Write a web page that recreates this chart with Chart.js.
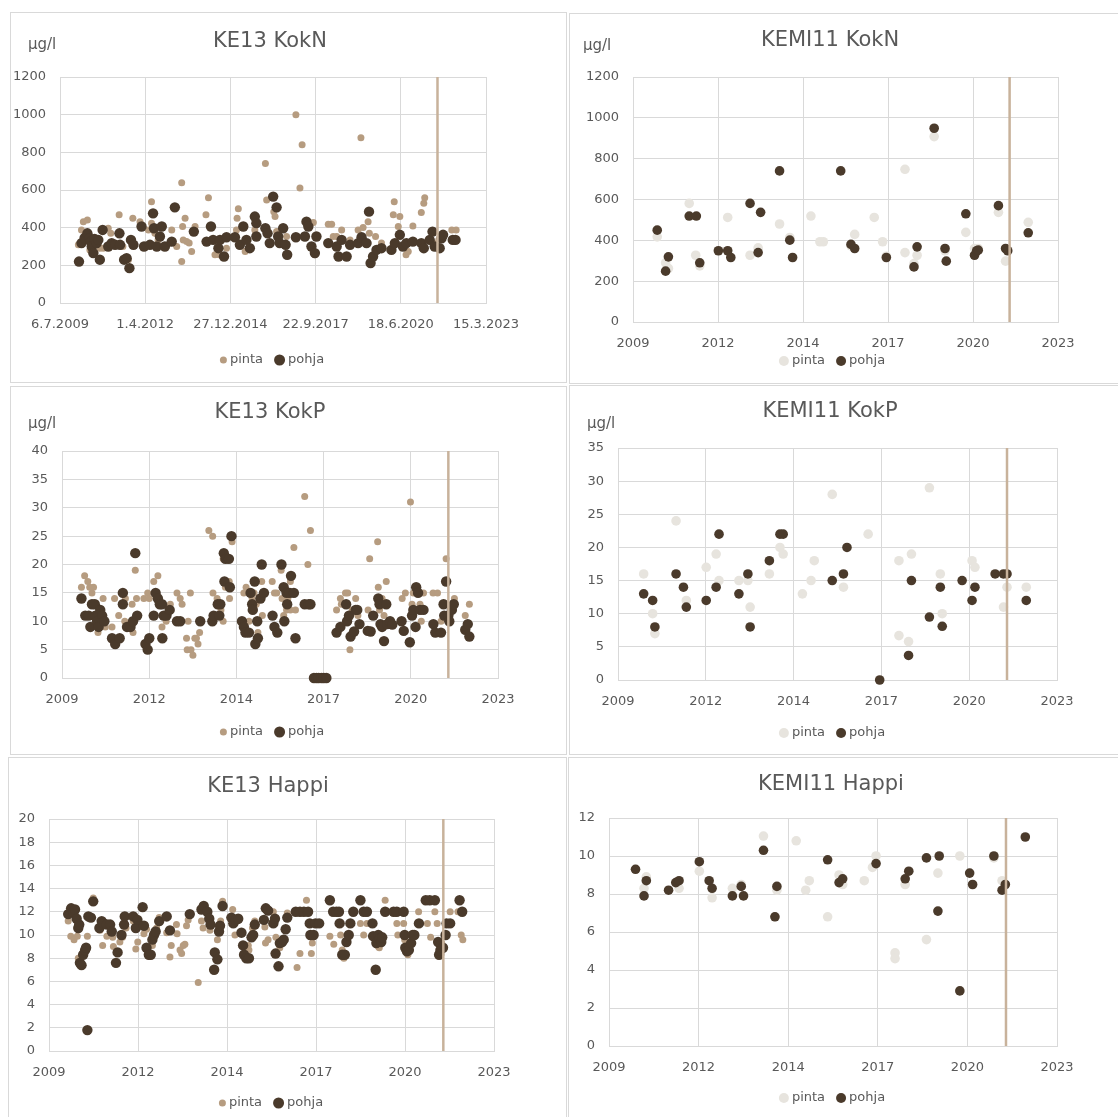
<!DOCTYPE html>
<html lang="fi">
<head>
<meta charset="UTF-8">
<title>KE13 / KEMI11 pinta ja pohja</title>
<script src="https://cdn.jsdelivr.net/npm/chart.js"></script>
<style>
  body { margin: 0; width: 1118px; height: 1117px; overflow: hidden; background: #fff; position: relative; }
  .panel { position: absolute; border: 1px solid #d9d9d9; box-sizing: border-box; background: #fff; }
  .panel canvas { display: block; }
</style>
</head>
<body>
<div class="panel"><canvas id="c1"></canvas></div>
<div class="panel"><canvas id="c2"></canvas></div>
<div class="panel"><canvas id="c3"></canvas></div>
<div class="panel"><canvas id="c4"></canvas></div>
<div class="panel"><canvas id="c5"></canvas></div>
<div class="panel"><canvas id="c6"></canvas></div>
<script>
// x-akselin jaot (Excel-päivät 40000..45000, askel 1000)
const dateTicks = ['6.7.2009', '1.4.2012', '27.12.2014', '22.9.2017', '18.6.2020', '15.3.2023'];
const yearTicks = ['2009', '2012', '2014', '2017', '2020', '2023'];
const markerYear = 2021.64;

// [vuosi, arvo]
const ke13KokNPinta = [[2010.1,309],[2010.2,388],[2010.26,432],[2010.39,441],[2010.47,282],[2010.63,265],[2010.79,291],[2010.9,291],[2011.06,397],[2011.14,370],[2011.41,468],[2011.53,300],[2011.71,230],[2011.85,450],[2012.08,432],[2012.35,388],[2012.45,538],[2012.45,424],[2012.56,370],[2012.66,335],[2013.1,388],[2013.26,300],[2013.42,639],[2013.42,221],[2013.45,406],[2013.53,450],[2013.47,335],[2013.58,326],[2013.66,318],[2013.74,274],[2013.85,406],[2014.2,468],[2014.28,559],[2014.49,256],[2014.63,256],[2014.86,291],[2015.18,388],[2015.2,450],[2015.24,500],[2015.46,274],[2015.77,388],[2016.11,741],[2016.15,547],[2016.38,485],[2016.42,459],[2016.47,379],[2016.79,353],[2017.09,1000],[2017.22,610],[2017.29,840],[2017.65,427],[2017.7,256],[2018.13,418],[2018.24,418],[2018.29,353],[2018.4,353],[2018.56,388],[2018.83,335],[2019.09,388],[2019.18,877],[2019.25,401],[2019.41,432],[2019.45,370],[2019.65,353],[2019.84,318],[2020.22,468],[2020.25,538],[2020.38,406],[2020.43,459],[2020.63,256],[2020.7,274],[2020.85,409],[2021.12,480],[2021.2,529],[2021.23,559],[2021.5,318],[2021.68,335],[2022.1,388],[2022.24,388]];
const ke13KokNPohja = [[2010.12,220],[2010.2,318],[2010.3,345],[2010.39,370],[2010.45,344],[2010.5,325],[2010.53,300],[2010.58,265],[2010.62,340],[2010.69,318],[2010.74,335],[2010.79,230],[2010.88,388],[2011.06,300],[2011.17,318],[2011.28,309],[2011.42,370],[2011.44,309],[2011.57,230],[2011.65,238],[2011.74,185],[2011.79,335],[2011.87,309],[2012.13,406],[2012.21,300],[2012.4,309],[2012.5,476],[2012.53,397],[2012.62,300],[2012.72,353],[2012.78,406],[2012.88,300],[2013.1,326],[2013.2,508],[2013.81,379],[2014.22,326],[2014.36,406],[2014.43,335],[2014.6,291],[2014.65,335],[2014.78,247],[2014.86,349],[2015.13,349],[2015.29,309],[2015.4,406],[2015.5,335],[2015.61,291],[2015.77,459],[2015.82,424],[2015.82,353],[2016.11,397],[2016.18,370],[2016.25,318],[2016.36,565],[2016.47,508],[2016.52,353],[2016.57,318],[2016.68,397],[2016.76,309],[2016.81,256],[2017.09,349],[2017.38,353],[2017.43,432],[2017.49,406],[2017.59,300],[2017.7,265],[2017.75,353],[2018.13,318],[2018.4,300],[2018.46,247],[2018.56,335],[2018.72,247],[2018.83,309],[2019.09,318],[2019.2,349],[2019.36,318],[2019.44,485],[2019.49,212],[2019.57,247],[2019.68,282],[2019.84,291],[2020.16,282],[2020.27,318],[2020.43,362],[2020.53,300],[2020.64,318],[2020.85,326],[2021.12,318],[2021.2,291],[2021.39,335],[2021.48,379],[2021.55,300],[2021.71,291],[2021.77,344],[2021.82,362],[2022.13,335],[2022.22,335]];

const kemi11KokNPinta = [[2010.29,417],[2010.56,290],[2010.65,262],[2011.32,581],[2011.53,327],[2011.66,275],[2012.56,512],[2013.28,327],[2013.54,363],[2014.23,480],[2014.56,414],[2015.24,519],[2015.53,393],[2015.64,393],[2016.53,373],[2016.65,429],[2017.28,512],[2017.55,393],[2017.67,322],[2018.27,748],[2018.27,340],[2018.56,286],[2018.66,327],[2019.21,908],[2019.56,349],[2020.23,439],[2020.51,360],[2020.63,360],[2021.28,537],[2021.51,298],[2022.24,488]];
const kemi11KokNPohja = [[2010.29,450],[2010.56,249],[2010.65,319],[2011.32,519],[2011.55,519],[2011.66,290],[2012.26,349],[2012.56,349],[2012.66,316],[2013.28,581],[2013.54,340],[2013.62,537],[2014.23,740],[2014.56,401],[2014.65,316],[2016.2,740],[2016.53,380],[2016.65,360],[2017.67,316],[2018.56,270],[2018.66,368],[2019.21,949],[2019.56,360],[2019.6,298],[2020.23,530],[2020.51,327],[2020.58,349],[2020.63,352],[2021.28,570],[2021.51,360],[2021.58,349],[2022.24,437]];

const ke13KokPPinta = [[2010.12,16],[2010.22,18],[2010.32,17],[2010.38,16],[2010.45,15],[2010.5,16],[2010.64,8],[2010.8,14],[2010.87,9],[2011.08,9],[2011.16,14],[2011.29,11],[2011.48,10],[2011.5,14],[2011.71,13],[2011.74,8],[2011.81,19],[2011.85,14],[2012.08,14],[2012.2,15],[2012.25,14],[2012.39,17],[2012.52,18],[2012.65,9],[2012.78,10],[2012.91,13],[2013.12,15],[2013.22,14],[2013.28,13],[2013.47,10],[2013.42,7],[2013.44,5],[2013.56,5],[2013.62,4],[2013.54,15],[2013.68,7],[2013.73,7],[2013.78,6],[2013.83,8],[2014.12,26],[2014.24,25],[2014.25,15],[2014.38,14],[2014.48,11],[2014.5,12],[2014.57,10],[2014.57,21],[2014.64,16],[2014.76,17],[2014.77,14],[2014.85,24],[2015.22,15],[2015.29,16],[2015.38,10],[2015.48,14],[2015.54,15],[2015.61,13],[2015.66,8],[2015.78,17],[2015.8,11],[2016.11,17],[2016.18,15],[2016.25,15],[2016.39,19],[2016.42,14],[2016.47,11],[2016.56,12],[2016.6,14],[2016.68,17],[2016.68,12],[2016.79,23],[2016.84,12],[2017.13,32],[2017.23,20],[2017.31,26],[2018.13,12],[2018.25,14],[2018.28,13],[2018.41,15],[2018.48,15],[2018.55,5],[2018.62,12],[2018.73,14],[2018.8,11],[2019.12,12],[2019.17,21],[2019.42,24],[2019.44,16],[2019.48,12],[2019.56,14],[2019.62,11],[2019.69,17],[2019.78,10],[2020.19,14],[2020.29,15],[2020.45,31],[2020.5,13],[2020.54,15],[2020.75,13],[2020.79,10],[2020.86,15],[2021.16,15],[2021.3,15],[2021.41,10],[2021.57,21],[2021.83,14],[2022.17,11],[2022.3,13]];
const ke13KokPPohja = [[2010.12,14],[2010.24,11],[2010.35,11],[2010.4,9],[2010.45,13],[2010.54,13],[2010.56,11],[2010.61,10],[2010.66,9],[2010.71,12],[2010.77,11],[2010.84,10],[2011.08,7],[2011.18,6],[2011.32,7],[2011.42,15],[2011.42,13],[2011.55,9],[2011.66,9],[2011.74,10],[2011.81,22],[2011.87,11],[2012.13,6],[2012.2,5],[2012.25,7],[2012.39,11],[2012.45,15],[2012.52,14],[2012.58,13],[2012.65,13],[2012.66,7],[2012.7,11],[2012.79,11],[2012.89,12],[2013.12,10],[2013.22,10],[2013.85,10],[2014.23,10],[2014.27,11],[2014.4,13],[2014.45,11],[2014.48,13],[2014.59,22],[2014.61,17],[2014.64,21],[2014.75,21],[2014.78,16],[2014.83,25],[2015.16,10],[2015.22,9],[2015.27,8],[2015.38,8],[2015.43,15],[2015.48,13],[2015.5,12],[2015.56,17],[2015.58,6],[2015.66,7],[2015.64,10],[2015.74,14],[2015.78,20],[2015.85,15],[2016.12,11],[2016.18,9],[2016.27,8],[2016.4,20],[2016.47,16],[2016.49,10],[2016.56,15],[2016.58,13],[2016.66,15],[2016.7,18],[2016.79,15],[2016.84,7],[2017.13,13],[2017.26,13],[2017.31,13],[2017.42,0],[2017.5,0],[2017.57,0],[2017.66,0],[2017.73,0],[2017.81,0],[2018.13,8],[2018.25,9],[2018.43,13],[2018.46,10],[2018.52,11],[2018.57,7.3],[2018.68,8.2],[2018.73,12],[2018.78,12],[2018.85,9.5],[2019.11,8.3],[2019.2,8.2],[2019.28,11],[2019.44,14],[2019.48,13],[2019.51,9.5],[2019.56,9],[2019.62,6.5],[2019.69,13],[2019.72,9.5],[2019.81,10],[2019.88,9.4],[2020.17,10],[2020.24,8.3],[2020.43,6.3],[2020.5,11],[2020.54,12],[2020.63,16],[2020.69,15],[2020.61,9],[2020.75,12],[2020.86,12],[2021.17,9.5],[2021.23,8],[2021.41,8],[2021.49,13],[2021.51,11],[2021.57,17],[2021.64,11],[2021.67,10],[2021.75,12],[2021.81,13],[2022.17,8.5],[2022.25,9.5],[2022.3,7.3]];

const kemi11KokPPinta = [[2010.31,16],[2010.59,10],[2010.66,7],[2011.32,24],[2011.64,12],[2012.26,17],[2012.57,19],[2012.66,15],[2013.28,15],[2013.56,15],[2013.63,11],[2014.23,16],[2014.56,20],[2014.66,19],[2015.26,13],[2015.53,15],[2015.63,18],[2016.19,28],[2016.54,14],[2017.31,22],[2018.27,18],[2018.27,6.7],[2018.57,5.8],[2018.66,19],[2019.22,29],[2019.56,16],[2019.62,10],[2020.55,18],[2020.64,17],[2021.53,11],[2021.64,14],[2022.24,14]];
const kemi11KokPPohja = [[2010.31,13],[2010.59,12],[2010.66,8],[2011.32,16],[2011.55,14],[2011.64,11],[2012.26,12],[2012.57,14],[2012.66,22],[2013.28,13],[2013.56,16],[2013.63,8],[2014.23,18],[2014.56,22],[2014.66,22],[2016.19,15],[2016.54,16],[2016.65,20],[2017.67,0],[2018.57,3.7],[2018.66,15],[2019.22,9.5],[2019.56,14],[2019.62,8.1],[2020.24,15],[2020.55,12],[2020.64,14],[2021.27,16],[2021.53,16],[2021.64,16],[2022.24,12]];

const ke13HappiPinta = [[2010.1,11.2],[2010.18,9.9],[2010.28,9.6],[2010.38,9.9],[2010.41,8],[2010.69,9.9],[2010.87,13.2],[2011.08,10.4],[2011.16,9.1],[2011.29,9.9],[2011.47,9.8],[2011.49,9],[2011.69,9.4],[2011.77,9.8],[2011.88,10.6],[2012.1,11.2],[2012.18,8.8],[2012.24,9.4],[2012.43,10.1],[2012.51,10.5],[2012.69,9.1],[2012.82,10.6],[2012.9,11.5],[2013.13,10.2],[2013.23,8.1],[2013.27,9.1],[2013.43,10.9],[2013.45,10.1],[2013.54,8.7],[2013.59,8.4],[2013.64,9.1],[2013.69,9.2],[2013.74,10.8],[2013.79,11.3],[2014.1,5.9],[2014.2,11.2],[2014.25,10.6],[2014.46,10.4],[2014.69,9.6],[2014.79,11.2],[2014.85,12.9],[2015.16,12.2],[2015.23,10],[2015.33,11.4],[2015.64,9.1],[2015.66,8.7],[2015.77,10.6],[2015.84,11.2],[2016.15,10.7],[2016.17,9.3],[2016.25,9.6],[2016.41,12],[2016.49,9.8],[2016.61,8.9],[2016.84,11.9],[2017.14,7.2],[2017.23,8.4],[2017.43,13],[2017.58,8.4],[2017.61,9.3],[2018.15,9.9],[2018.27,9.2],[2018.48,10],[2018.53,8.7],[2018.58,8],[2019.09,11],[2019.19,10],[2019.29,11],[2019.48,11],[2019.64,9],[2019.67,8.9],[2019.85,13],[2020.21,11],[2020.24,10],[2020.42,11],[2020.45,9.6],[2020.55,8.3],[2020.88,12],[2021.15,11],[2021.25,9.8],[2021.38,12],[2021.45,11],[2021.59,9.3],[2021.85,12],[2022.09,12],[2022.19,10],[2022.24,9.6]];
const ke13HappiPohja = [[2010.1,11.8],[2010.19,12.3],[2010.26,12],[2010.31,12.2],[2010.36,11.4],[2010.41,10.6],[2010.44,10.9],[2010.46,7.6],[2010.51,7.4],[2010.56,8.3],[2010.62,8.7],[2010.65,8.9],[2010.69,1.8],[2010.72,11.6],[2010.8,11.5],[2010.87,12.9],[2011.06,10.6],[2011.13,11.2],[2011.18,11],[2011.29,10.9],[2011.39,10.9],[2011.44,10.3],[2011.57,7.6],[2011.62,8.5],[2011.74,10],[2011.82,10.9],[2011.84,11.6],[2012.1,11.6],[2012.18,10.6],[2012.23,11.3],[2012.39,12.4],[2012.43,10.8],[2012.51,8.9],[2012.58,8.3],[2012.64,8.3],[2012.69,9.6],[2012.74,10],[2012.79,10.3],[2012.9,11.2],[2013.13,11.6],[2013.23,10.4],[2013.84,11.8],[2014.2,12.2],[2014.27,12.5],[2014.38,12],[2014.44,11.4],[2014.48,10.9],[2014.61,8.5],[2014.59,7],[2014.69,7.9],[2014.74,10.3],[2014.77,10.8],[2014.85,12.5],[2015.12,11.5],[2015.18,11],[2015.26,11.3],[2015.33,11.4],[2015.43,10.2],[2015.48,9.1],[2015.51,8.3],[2015.58,8],[2015.66,8],[2015.74,9.8],[2015.79,10],[2015.84,10.9],[2016.12,11.3],[2016.18,12.3],[2016.25,12.1],[2016.41,11],[2016.46,11.4],[2016.48,8.4],[2016.57,7.3],[2016.61,9.3],[2016.68,9.4],[2016.73,9.6],[2016.79,10.5],[2016.84,11.5],[2017.1,12],[2017.23,12],[2017.35,12],[2017.48,12],[2017.53,11],[2017.55,10],[2017.65,10],[2017.71,11],[2017.82,11],[2018.15,13],[2018.25,12],[2018.35,12],[2018.45,11],[2018.43,12],[2018.53,8.3],[2018.61,8.3],[2018.66,9.4],[2018.73,10],[2018.78,11],[2018.87,12],[2019.09,13],[2019.19,12],[2019.29,12],[2019.46,11],[2019.48,9.9],[2019.56,7],[2019.58,9.3],[2019.64,10],[2019.68,9.7],[2019.73,9.4],[2019.76,9.8],[2019.85,12],[2020.11,12],[2020.21,12],[2020.42,12],[2020.45,10],[2020.47,8.9],[2020.52,8.6],[2020.58,8.7],[2020.65,9.3],[2020.7,10],[2020.75,10],[2020.89,11],[2021.1,13],[2021.22,13],[2021.38,13],[2021.48,9.4],[2021.51,8.3],[2021.55,8.7],[2021.63,8.9],[2021.71,10],[2021.74,11],[2021.85,11],[2022.14,13],[2022.22,12]];

const kemi11HappiPinta = [[2010.32,9.3],[2010.58,8.3],[2010.65,8.9],[2011.65,8.3],[2012.27,9.2],[2012.66,7.8],[2013.28,8.3],[2013.55,8.5],[2014.23,11.05],[2014.58,6.8],[2014.64,8.2],[2015.23,10.8],[2015.52,8.2],[2015.63,8.7],[2016.19,6.8],[2016.54,9],[2016.65,8.5],[2017.31,8.7],[2017.56,9.4],[2017.67,10],[2018.25,4.9],[2018.25,4.6],[2018.56,8.5],[2019.21,5.6],[2019.56,9.1],[2020.23,10],[2021.27,9.9],[2021.52,8.7]];
const kemi11HappiPohja = [[2010.32,9.3],[2010.58,7.9],[2010.65,8.7],[2011.33,8.2],[2011.55,8.6],[2011.65,8.7],[2012.27,9.7],[2012.57,8.7],[2012.66,8.3],[2013.28,7.9],[2013.55,8.4],[2013.62,7.9],[2014.23,10.3],[2014.58,6.8],[2014.64,8.4],[2016.19,9.8],[2016.54,8.6],[2016.65,8.8],[2017.67,9.6],[2018.56,8.8],[2018.67,9.2],[2019.21,9.9],[2019.56,7.1],[2019.6,10],[2020.23,2.9],[2020.53,9.1],[2020.62,8.5],[2021.27,10],[2021.52,8.2],[2021.62,8.5],[2022.23,11]];

const TEXT = '#595959', GRID = '#d9d9d9';
const TAN = '#b69c80', DARK = '#4a3a2b', LIGHT = '#e7e4de', LINE = '#c8b29b';
const FONT = 'DejaVu Sans';

const toSerial = yr => 40000 + (yr - 2009.5096) * 365.25;
const pts = arr => arr.map(([yr, v]) => ({ x: toSerial(yr), y: v }));

function makeChart(id, o) {
  const canvas = document.getElementById(id);
  const wrap = canvas.parentElement;
  const [px, py, pw, ph] = o.panel;
  Object.assign(wrap.style, { left: px + 'px', top: py + 'px', width: pw + 'px', height: ph + 'px' });
  const cx = px + 1, cy = py + 1, cw = pw - 2, ch = ph - 2;
  canvas.width = cw; canvas.height = ch;
  const [L, T, R, B] = o.plot;
  const pl = L - cx, pt = T - cy, pr = R - cx, pb = B - cy;

  // otsikko, yksikkö ja selite
  const deco = {
    id: 'deco',
    afterDraw(chart) {
      const ctx = chart.ctx;
      ctx.save();
      ctx.fillStyle = TEXT;
      ctx.textBaseline = 'middle';
      ctx.textAlign = 'center';
      ctx.font = `21px "${FONT}"`;
      ctx.fillText(o.title, o.titleAt[0] - cx, o.titleAt[1] - cy);
      if (o.unitAt) {
        ctx.textAlign = 'left';
        ctx.font = `15px "${FONT}"`;
        ctx.fillText('µg/l', o.unitAt[0] - cx, o.unitAt[1] - cy);
      }
      ctx.font = `13px "${FONT}"`;
      ctx.textAlign = 'left';
      const items = o.series.map(s => ({ s, w: 2 * s.lr + 3 + ctx.measureText(s.label).width }));
      const total = items.reduce((a, it) => a + it.w, 0) + 11 * (items.length - 1);
      let x = o.legendAt[0] - cx - total / 2;
      const y = o.legendAt[1] - cy;
      items.forEach(it => {
        ctx.fillStyle = it.s.color;
        ctx.beginPath();
        ctx.arc(x + it.s.lr, y, it.s.lr, 0, Math.PI * 2);
        ctx.fill();
        ctx.fillStyle = TEXT;
        ctx.fillText(it.s.label, x + 2 * it.s.lr + 3, y);
        x += it.w + 11;
      });
      ctx.restore();
    }
  };

  const tickFont = { family: FONT, size: 13 };
  return new Chart(canvas, {
    type: 'scatter',
    data: {
      datasets: [
        ...o.series.map(s => ({
          label: s.label,
          data: pts(s.data),
          backgroundColor: s.color,
          borderWidth: 0,
          pointRadius: s.r,
          pointHoverRadius: s.r,
          order: s.order,
          clip: false
        })),
        {
          label: 'raja',
          data: [{ x: toSerial(markerYear), y: 0 }, { x: toSerial(markerYear), y: o.yMax }],
          showLine: true,
          borderColor: LINE,
          borderWidth: 2.5,
          pointRadius: 0,
          order: 0
        }
      ]
    },
    options: {
      responsive: false,
      animation: false,
      devicePixelRatio: 1,
      layout: { padding: { left: 0, top: pt, right: cw - pr, bottom: 0 } },
      plugins: { legend: { display: false }, title: { display: false }, tooltip: { enabled: false } },
      scales: {
        x: {
          type: 'linear', min: 40000, max: 45000,
          afterFit: s => { s.height = ch - pb; },
          ticks: {
            stepSize: 1000, autoSkip: false, maxRotation: 0, padding: 14,
            color: TEXT, font: tickFont,
            callback: v => o.xLabels[Math.round((v - 40000) / 1000)]
          },
          grid: { color: GRID, drawTicks: false },
          border: { color: GRID }
        },
        y: {
          min: 0, max: o.yMax,
          afterFit: s => { s.width = pl; },
          ticks: { stepSize: o.yStep, padding: 14, color: TEXT, font: tickFont, callback: v => String(v) },
          grid: { color: GRID, drawTicks: false },
          border: { color: GRID }
        }
      }
    },
    plugins: [deco]
  });
}

const ke13Series = (p, q) => [
  { label: 'pinta', data: p, color: TAN, r: 3.5, lr: 3.5, order: 2 },
  { label: 'pohja', data: q, color: DARK, r: 5.2, lr: 5.5, order: 1 }
];
const kemiSeries = (p, q) => [
  { label: 'pinta', data: p, color: LIGHT, r: 4.8, lr: 5, order: 2 },
  { label: 'pohja', data: q, color: DARK, r: 4.8, lr: 5, order: 1 }
];

makeChart('c1', {
  panel: [10, 12, 557, 371], plot: [60, 77, 486, 303],
  title: 'KE13 KokN', titleAt: [270, 42], unitAt: [28, 45], legendAt: [272, 360],
  xLabels: dateTicks, yMax: 1200, yStep: 200,
  series: ke13Series(ke13KokNPinta, ke13KokNPohja)
});
makeChart('c2', {
  panel: [569, 13, 552, 371], plot: [633, 77, 1058, 322],
  title: 'KEMI11 KokN', titleAt: [830, 41], unitAt: [583, 46], legendAt: [832, 361],
  xLabels: yearTicks, yMax: 1200, yStep: 200,
  series: kemiSeries(kemi11KokNPinta, kemi11KokNPohja)
});
makeChart('c3', {
  panel: [10, 386, 557, 369], plot: [62, 451, 498, 678],
  title: 'KE13 KokP', titleAt: [270, 413], unitAt: [28, 424], legendAt: [272, 732],
  xLabels: yearTicks, yMax: 40, yStep: 5,
  series: ke13Series(ke13KokPPinta, ke13KokPPohja)
});
makeChart('c4', {
  panel: [569, 385, 552, 370], plot: [618, 448, 1057, 680],
  title: 'KEMI11 KokP', titleAt: [830, 412], unitAt: [587, 424], legendAt: [832, 733],
  xLabels: yearTicks, yMax: 35, yStep: 5,
  series: kemiSeries(kemi11KokPPinta, kemi11KokPPohja)
});
makeChart('c5', {
  panel: [8, 757, 559, 362], plot: [49, 819, 494, 1051],
  title: 'KE13 Happi', titleAt: [268, 787], unitAt: null, legendAt: [271, 1103],
  xLabels: yearTicks, yMax: 20, yStep: 2,
  series: ke13Series(ke13HappiPinta, ke13HappiPohja)
});
makeChart('c6', {
  panel: [568, 757, 552, 362], plot: [609, 818, 1057, 1046],
  title: 'KEMI11 Happi', titleAt: [831, 785], unitAt: null, legendAt: [832, 1098],
  xLabels: yearTicks, yMax: 12, yStep: 2,
  series: kemiSeries(kemi11HappiPinta, kemi11HappiPohja)
});
</script>
</body>
</html>
